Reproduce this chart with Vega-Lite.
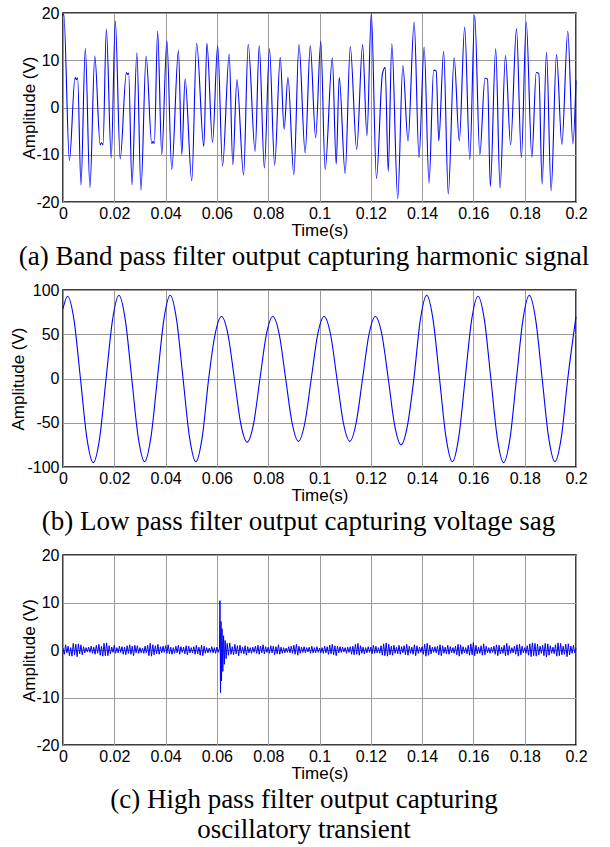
{
  "$schema": "https://vega.github.io/schema/vega-lite/v6.json",
  "background": "white",
  "padding": {"left": 9, "top": 4, "right": 5, "bottom": 0},
  "bounds": "flush",
  "spacing": 88,
  "config": {
    "view": {"stroke": "black", "strokeWidth": 1.5},
    "axis": {
      "labelFont": "Liberation Sans", "labelFontSize": 16, "labelColor": "black",
      "titleFont": "Liberation Sans", "titleFontSize": 17, "titleFontWeight": "normal", "titleColor": "black",
      "grid": true, "gridColor": "#9a9a9a", "gridWidth": 1, "domain": false, "ticks": false,
      "labelOverlap": false, "labelFlush": false, "labelExpr": "'' + datum.value"
    },
    "title": {"font": "Liberation Serif", "fontSize": 27, "fontWeight": "normal", "color": "black", "orient": "bottom", "anchor": "middle", "frame": "bounds", "offset": 6, "lineHeight": 30}
  },
  "datasets": {
    "a": [
      {"t":0,"v":19.5},{"t":0.0003,"v":19.8},{"t":0.0025,"v":-11.2},{"t":0.0047,"v":6.4},{"t":0.0052,"v":5.9},{"t":0.0057,"v":6.3},
      {"t":0.007,"v":-16.4},{"t":0.0087,"v":12.5},{"t":0.0105,"v":-16.9},{"t":0.0124,"v":10.9},{"t":0.0145,"v":-7.9},{"t":0.015,"v":-7.4},{"t":0.0156,"v":-7.9},
      {"t":0.0169,"v":16.6},{"t":0.0188,"v":-10.7},{"t":0.0204,"v":18.3},{"t":0.0223,"v":-10.9},{"t":0.0247,"v":7.4},{"t":0.0252,"v":7.0},{"t":0.0256,"v":7.3},
      {"t":0.0269,"v":-16.4},{"t":0.0288,"v":11.6},{"t":0.0304,"v":-17.5},{"t":0.0324,"v":10.9},{"t":0.0346,"v":-7.6},{"t":0.0351,"v":-7.2},{"t":0.0356,"v":-7.6},
      {"t":0.0369,"v":16.2},{"t":0.0385,"v":-10.0},{"t":0.0405,"v":14.1},{"t":0.0424,"v":-13.1},{"t":0.045,"v":12.1},{"t":0.0463,"v":-10.0},{"t":0.0476,"v":6.0},
      {"t":0.0502,"v":-15.5},{"t":0.0521,"v":13.6},{"t":0.0549,"v":-8.3},{"t":0.0561,"v":13.6},{"t":0.0583,"v":-7.4},{"t":0.0603,"v":13.1},{"t":0.0622,"v":-12.4},
      {"t":0.0648,"v":11.3},{"t":0.0662,"v":-12.1},{"t":0.0678,"v":5.9},{"t":0.0704,"v":-14.3},{"t":0.0722,"v":13.4},{"t":0.0749,"v":-9.3},{"t":0.0765,"v":13.1},
      {"t":0.0785,"v":-12.8},{"t":0.0805,"v":12.5},{"t":0.0825,"v":-12.2},{"t":0.0847,"v":10.6},{"t":0.0862,"v":-4.6},{"t":0.0877,"v":6.4},{"t":0.09,"v":-14.2},
      {"t":0.092,"v":13.3},{"t":0.0944,"v":-9.6},{"t":0.0964,"v":13.1},{"t":0.0985,"v":-6.4},{"t":0.1005,"v":14.0},{"t":0.1022,"v":-13.1},{"t":0.105,"v":10.5},
      {"t":0.1065,"v":-12.0},{"t":0.1077,"v":6.4},{"t":0.11,"v":-14.0},{"t":0.112,"v":12.9},{"t":0.1145,"v":-8.9},{"t":0.1168,"v":13.3},{"t":0.1185,"v":-6.0},
      {"t":0.1202,"v":20.0},{"t":0.1222,"v":-15.0},{"t":0.1245,"v":7.0},{"t":0.1256,"v":8.5},{"t":0.1268,"v":-13.5},{"t":0.1282,"v":13.5},{"t":0.1305,"v":-19.3},
      {"t":0.1325,"v":8.9},{"t":0.1345,"v":-7.1},{"t":0.1369,"v":18.1},{"t":0.1388,"v":-10.6},{"t":0.1408,"v":12.8},{"t":0.1427,"v":-16.0},{"t":0.1445,"v":7.9},
      {"t":0.1455,"v":7.7},{"t":0.1465,"v":-7.1},{"t":0.1484,"v":11.9},{"t":0.1502,"v":-18.3},{"t":0.1525,"v":10.5},{"t":0.1545,"v":-7.1},{"t":0.1566,"v":17.0},
      {"t":0.1586,"v":-11.0},{"t":0.1605,"v":19.5},{"t":0.1625,"v":-10.0},{"t":0.1645,"v":6.2},{"t":0.1655,"v":6.0},{"t":0.1666,"v":-16.7},{"t":0.1687,"v":12.4},
      {"t":0.1704,"v":-17.0},{"t":0.1725,"v":11.0},{"t":0.1745,"v":-7.9},{"t":0.1768,"v":16.7},{"t":0.1787,"v":-10.6},{"t":0.1806,"v":18.1},{"t":0.1828,"v":-10.5},
      {"t":0.1845,"v":7.4},{"t":0.1855,"v":7.2},{"t":0.1868,"v":-16.2},{"t":0.1885,"v":11.7},{"t":0.1903,"v":-17.6},{"t":0.1924,"v":11.2},{"t":0.1945,"v":-7.8},
      {"t":0.1968,"v":16.2},{"t":0.1988,"v":-7.7},{"t":0.2,"v":5.7}
    ],
    "b": [
      {"t":0,"v":79},{"t":0.0018,"v":93},{"t":0.0043,"v":66},{"t":0.0068,"v":0},{"t":0.0093,"v":-67},{"t":0.0118,"v":-95},{"t":0.0143,"v":-67},{"t":0.0168,"v":0},
      {"t":0.0193,"v":66},{"t":0.0218,"v":94},{"t":0.0243,"v":66},{"t":0.0268,"v":0},{"t":0.0293,"v":-66},{"t":0.0318,"v":-94},{"t":0.0343,"v":-66},{"t":0.0368,"v":0},
      {"t":0.0393,"v":66},{"t":0.0418,"v":94},{"t":0.0443,"v":66},{"t":0.0468,"v":0},{"t":0.0493,"v":-66},{"t":0.0518,"v":-94},{"t":0.0543,"v":-66},{"t":0.0568,"v":0},
      {"t":0.0593,"v":50},{"t":0.0618,"v":70},{"t":0.0643,"v":50},{"t":0.0668,"v":0},{"t":0.0693,"v":-51},{"t":0.0718,"v":-72},{"t":0.0743,"v":-51},{"t":0.0768,"v":0},
      {"t":0.0793,"v":50},{"t":0.0818,"v":70},{"t":0.0843,"v":50},{"t":0.0868,"v":0},{"t":0.0893,"v":-50},{"t":0.0918,"v":-71},{"t":0.0943,"v":-50},{"t":0.0968,"v":0},
      {"t":0.0993,"v":50},{"t":0.1018,"v":70},{"t":0.1043,"v":50},{"t":0.1068,"v":0},{"t":0.1093,"v":-50},{"t":0.1118,"v":-71},{"t":0.1143,"v":-50},{"t":0.1168,"v":0},
      {"t":0.1193,"v":50},{"t":0.1218,"v":70},{"t":0.1243,"v":50},{"t":0.1268,"v":0},{"t":0.1293,"v":-53},{"t":0.1318,"v":-75},{"t":0.1343,"v":-53},{"t":0.1368,"v":0},
      {"t":0.1393,"v":66},{"t":0.1418,"v":94},{"t":0.1443,"v":66},{"t":0.1468,"v":0},{"t":0.1493,"v":-66},{"t":0.1518,"v":-94},{"t":0.1543,"v":-66},{"t":0.1568,"v":0},
      {"t":0.1593,"v":66},{"t":0.1618,"v":93},{"t":0.1643,"v":66},{"t":0.1668,"v":0},{"t":0.1693,"v":-67},{"t":0.1718,"v":-95},{"t":0.1743,"v":-67},{"t":0.1768,"v":0},
      {"t":0.1793,"v":66},{"t":0.1818,"v":94},{"t":0.1843,"v":66},{"t":0.1868,"v":0},{"t":0.1893,"v":-66},{"t":0.1918,"v":-94},{"t":0.1943,"v":-66},{"t":0.1968,"v":0},
      {"t":0.2,"v":70}
    ],
    "c": [
      {"t":0,"v":0.4},{"t":0.0005,"v":-0.9},{"t":0.001,"v":1.1},{"t":0.0015,"v":-0.6},{"t":0.002,"v":0.8},{"t":0.0025,"v":-1.2},{"t":0.003,"v":0.5},{"t":0.0035,"v":-1.3},{"t":0.004,"v":1.4},{"t":0.0045,"v":-1.0},
      {"t":0.005,"v":1.2},{"t":0.0055,"v":-1.4},{"t":0.006,"v":1.3},{"t":0.0065,"v":-0.8},{"t":0.007,"v":1.1},{"t":0.0075,"v":-1.0},{"t":0.008,"v":0.7},{"t":0.0085,"v":-0.6},{"t":0.009,"v":0.5},{"t":0.0095,"v":-0.4},
      {"t":0.01,"v":0.6},{"t":0.0105,"v":-0.5},{"t":0.011,"v":0.8},{"t":0.0115,"v":-0.7},{"t":0.012,"v":0.6},{"t":0.0125,"v":-0.9},{"t":0.013,"v":1.0},{"t":0.0135,"v":-0.7},{"t":0.014,"v":1.2},{"t":0.0145,"v":-1.1},
      {"t":0.015,"v":0.8},{"t":0.0155,"v":-1.3},{"t":0.016,"v":1.4},{"t":0.0165,"v":-1.2},{"t":0.017,"v":1.5},{"t":0.0175,"v":-1.2},{"t":0.018,"v":0.9},{"t":0.0185,"v":-0.8},{"t":0.019,"v":0.6},{"t":0.0195,"v":-0.5},
      {"t":0.02,"v":1.0},{"t":0.0205,"v":-0.7},{"t":0.021,"v":0.5},{"t":0.0215,"v":-0.6},{"t":0.022,"v":0.8},{"t":0.0225,"v":-0.5},{"t":0.023,"v":0.7},{"t":0.0235,"v":-0.9},{"t":0.024,"v":0.6},{"t":0.0245,"v":-1.0},
      {"t":0.025,"v":0.9},{"t":0.0255,"v":-0.7},{"t":0.026,"v":1.1},{"t":0.0265,"v":-0.9},{"t":0.027,"v":0.8},{"t":0.0275,"v":-1.2},{"t":0.028,"v":1.0},{"t":0.0285,"v":-0.6},{"t":0.029,"v":0.9},{"t":0.0295,"v":-0.7},
      {"t":0.03,"v":0.5},{"t":0.0305,"v":-0.6},{"t":0.031,"v":0.4},{"t":0.0315,"v":-0.7},{"t":0.032,"v":0.8},{"t":0.0325,"v":-0.6},{"t":0.033,"v":1.0},{"t":0.0335,"v":-1.2},{"t":0.034,"v":1.4},{"t":0.0345,"v":-1.3},
      {"t":0.035,"v":1.1},{"t":0.0355,"v":-1.0},{"t":0.036,"v":0.9},{"t":0.0365,"v":-0.8},{"t":0.037,"v":1.2},{"t":0.0375,"v":-0.9},{"t":0.038,"v":0.7},{"t":0.0385,"v":-0.6},{"t":0.039,"v":0.8},{"t":0.0395,"v":-0.5},
      {"t":0.04,"v":0.9},{"t":0.0405,"v":-0.7},{"t":0.041,"v":1.1},{"t":0.0415,"v":-0.8},{"t":0.042,"v":0.6},{"t":0.0425,"v":-0.9},{"t":0.043,"v":0.5},{"t":0.0435,"v":-0.7},{"t":0.044,"v":0.8},{"t":0.0445,"v":-0.6},
      {"t":0.045,"v":1.0},{"t":0.0455,"v":-0.9},{"t":0.046,"v":0.7},{"t":0.0465,"v":-0.5},{"t":0.047,"v":0.6},{"t":0.0475,"v":-0.8},{"t":0.048,"v":0.9},{"t":0.0485,"v":-1.0},{"t":0.049,"v":0.8},{"t":0.0495,"v":-0.6},
      {"t":0.05,"v":0.5},{"t":0.0505,"v":-0.6},{"t":0.051,"v":0.7},{"t":0.0515,"v":-0.9},{"t":0.052,"v":1.0},{"t":0.0525,"v":-0.8},{"t":0.053,"v":0.6},{"t":0.0535,"v":-1.1},{"t":0.054,"v":1.0},{"t":0.0545,"v":-1.2},
      {"t":0.055,"v":0.8},{"t":0.0555,"v":-0.7},{"t":0.056,"v":0.5},{"t":0.0565,"v":-0.6},{"t":0.057,"v":0.4},{"t":0.0575,"v":-0.5},{"t":0.058,"v":0.7},{"t":0.0585,"v":-0.6},{"t":0.059,"v":0.5},{"t":0.0595,"v":-0.7},
      {"t":0.06,"v":0.6},{"t":0.0605,"v":-0.5},{"t":0.061,"v":0.4},{"t":0.0612,"v":10.4},{"t":0.0614,"v":-9.0},{"t":0.0616,"v":6.0},{"t":0.0618,"v":-6.5},{"t":0.062,"v":4.5},{"t":0.0623,"v":-4.5},{"t":0.0626,"v":3.0},
      {"t":0.0629,"v":-3.0},{"t":0.0632,"v":2.0},{"t":0.0636,"v":-1.8},{"t":0.064,"v":1.4},{"t":0.0645,"v":-1.1},{"t":0.065,"v":1.5},{"t":0.0655,"v":-0.9},{"t":0.066,"v":0.7},{"t":0.0665,"v":-1.0},{"t":0.067,"v":1.2},
      {"t":0.0675,"v":-0.8},{"t":0.068,"v":0.9},{"t":0.0685,"v":-1.2},{"t":0.069,"v":1.0},{"t":0.0695,"v":-0.7},
      {"t":0.07,"v":0.6},{"t":0.0705,"v":-0.8},{"t":0.071,"v":0.9},{"t":0.0715,"v":-1.1},{"t":0.072,"v":0.7},{"t":0.0725,"v":-0.6},{"t":0.073,"v":0.5},{"t":0.0735,"v":-0.7},{"t":0.074,"v":0.6},{"t":0.0745,"v":-0.5},
      {"t":0.075,"v":0.8},{"t":0.0755,"v":-0.7},{"t":0.076,"v":1.0},{"t":0.0765,"v":-0.9},{"t":0.077,"v":0.8},{"t":0.0775,"v":-0.6},{"t":0.078,"v":1.1},{"t":0.0785,"v":-0.8},{"t":0.079,"v":0.7},{"t":0.0795,"v":-0.5},
      {"t":0.08,"v":0.6},{"t":0.0805,"v":-0.7},{"t":0.081,"v":0.9},{"t":0.0815,"v":-0.6},{"t":0.082,"v":0.8},{"t":0.0825,"v":-1.0},{"t":0.083,"v":0.7},{"t":0.0835,"v":-0.8},{"t":0.084,"v":1.1},{"t":0.0845,"v":-0.9},
      {"t":0.085,"v":0.6},{"t":0.0855,"v":-0.7},{"t":0.086,"v":0.5},{"t":0.0865,"v":-0.6},{"t":0.087,"v":0.4},{"t":0.0875,"v":-0.5},{"t":0.088,"v":0.7},{"t":0.0885,"v":-0.6},{"t":0.089,"v":0.8},{"t":0.0895,"v":-0.7},
      {"t":0.09,"v":1.0},{"t":0.0905,"v":-0.9},{"t":0.091,"v":1.2},{"t":0.0915,"v":-1.1},{"t":0.092,"v":0.8},{"t":0.0925,"v":-0.7},{"t":0.093,"v":0.6},{"t":0.0935,"v":-0.5},{"t":0.094,"v":0.7},{"t":0.0945,"v":-0.6},
      {"t":0.095,"v":0.5},{"t":0.0955,"v":-0.4},{"t":0.096,"v":0.6},{"t":0.0965,"v":-0.7},{"t":0.097,"v":0.8},{"t":0.0975,"v":-0.6},{"t":0.098,"v":0.5},{"t":0.0985,"v":-0.6},{"t":0.099,"v":0.7},{"t":0.0995,"v":-0.5},
      {"t":0.1,"v":0.4},{"t":0.1005,"v":-0.6},{"t":0.101,"v":0.5},{"t":0.1015,"v":-0.7},{"t":0.102,"v":0.8},{"t":0.1025,"v":-0.6},{"t":0.103,"v":0.7},{"t":0.1035,"v":-0.9},{"t":0.104,"v":1.0},{"t":0.1045,"v":-0.8},
      {"t":0.105,"v":1.2},{"t":0.1055,"v":-1.0},{"t":0.106,"v":0.9},{"t":0.1065,"v":-1.2},{"t":0.107,"v":0.8},{"t":0.1075,"v":-0.6},{"t":0.108,"v":0.7},{"t":0.1085,"v":-0.5},{"t":0.109,"v":0.6},{"t":0.1095,"v":-0.4},
      {"t":0.11,"v":0.5},{"t":0.1105,"v":-0.7},{"t":0.111,"v":0.6},{"t":0.1115,"v":-0.5},{"t":0.112,"v":0.7},{"t":0.1125,"v":-0.9},{"t":0.113,"v":0.8},{"t":0.1135,"v":-1.0},{"t":0.114,"v":1.2},{"t":0.1145,"v":-0.9},
      {"t":0.115,"v":1.4},{"t":0.1155,"v":-1.1},{"t":0.116,"v":0.9},{"t":0.1165,"v":-0.7},{"t":0.117,"v":0.6},{"t":0.1175,"v":-0.8},{"t":0.118,"v":0.5},{"t":0.1185,"v":-0.6},{"t":0.119,"v":0.7},{"t":0.1195,"v":-0.5},
      {"t":0.12,"v":0.6},{"t":0.1205,"v":-0.8},{"t":0.121,"v":1.0},{"t":0.1215,"v":-0.7},{"t":0.122,"v":0.8},{"t":0.1225,"v":-0.6},{"t":0.123,"v":0.5},{"t":0.1235,"v":-0.7},{"t":0.124,"v":0.9},{"t":0.1245,"v":-1.1},
      {"t":0.125,"v":1.3},{"t":0.1255,"v":-1.2},{"t":0.126,"v":1.5},{"t":0.1265,"v":-1.3},{"t":0.127,"v":1.2},{"t":0.1275,"v":-1.0},{"t":0.128,"v":0.8},{"t":0.1285,"v":-1.1},{"t":0.129,"v":1.0},{"t":0.1295,"v":-0.7},
      {"t":0.13,"v":0.6},{"t":0.1305,"v":-0.8},{"t":0.131,"v":1.0},{"t":0.1315,"v":-0.9},{"t":0.132,"v":0.7},{"t":0.1325,"v":-0.6},{"t":0.133,"v":0.9},{"t":0.1335,"v":-1.0},{"t":0.134,"v":1.2},{"t":0.1345,"v":-1.1},
      {"t":0.135,"v":0.8},{"t":0.1355,"v":-0.7},{"t":0.136,"v":0.6},{"t":0.1365,"v":-0.9},{"t":0.137,"v":1.1},{"t":0.1375,"v":-1.2},{"t":0.138,"v":0.9},{"t":0.1385,"v":-0.7},{"t":0.139,"v":0.6},{"t":0.1395,"v":-0.5},
      {"t":0.14,"v":0.7},{"t":0.1405,"v":-0.9},{"t":0.141,"v":1.2},{"t":0.1415,"v":-1.3},{"t":0.142,"v":1.4},{"t":0.1425,"v":-1.1},{"t":0.143,"v":1.0},{"t":0.1435,"v":-0.8},{"t":0.144,"v":0.6},{"t":0.1445,"v":-0.5},
      {"t":0.145,"v":0.7},{"t":0.1455,"v":-0.6},{"t":0.146,"v":0.8},{"t":0.1465,"v":-1.0},{"t":0.147,"v":1.1},{"t":0.1475,"v":-1.2},{"t":0.148,"v":0.9},{"t":0.1485,"v":-0.7},{"t":0.149,"v":0.6},{"t":0.1495,"v":-0.8},
      {"t":0.15,"v":1.0},{"t":0.1505,"v":-0.9},{"t":0.151,"v":0.7},{"t":0.1515,"v":-0.6},{"t":0.152,"v":0.5},{"t":0.1525,"v":-0.7},{"t":0.153,"v":0.8},{"t":0.1535,"v":-1.0},{"t":0.154,"v":1.2},{"t":0.1545,"v":-1.3},
      {"t":0.155,"v":1.1},{"t":0.1555,"v":-0.9},{"t":0.156,"v":0.7},{"t":0.1565,"v":-0.6},{"t":0.157,"v":0.5},{"t":0.1575,"v":-0.8},{"t":0.158,"v":1.0},{"t":0.1585,"v":-1.1},{"t":0.159,"v":1.3},{"t":0.1595,"v":-1.0},
      {"t":0.16,"v":1.6},{"t":0.1605,"v":-1.2},{"t":0.161,"v":1.0},{"t":0.1615,"v":-0.8},{"t":0.162,"v":0.6},{"t":0.1625,"v":-0.7},{"t":0.163,"v":0.9},{"t":0.1635,"v":-1.1},{"t":0.164,"v":1.3},{"t":0.1645,"v":-1.0},
      {"t":0.165,"v":0.8},{"t":0.1655,"v":-0.6},{"t":0.166,"v":0.5},{"t":0.1665,"v":-0.7},{"t":0.167,"v":0.6},{"t":0.1675,"v":-0.5},{"t":0.168,"v":0.8},{"t":0.1685,"v":-0.9},{"t":0.169,"v":1.1},{"t":0.1695,"v":-1.2},
      {"t":0.17,"v":1.0},{"t":0.1705,"v":-0.8},{"t":0.171,"v":0.6},{"t":0.1715,"v":-0.7},{"t":0.172,"v":1.0},{"t":0.1725,"v":-1.2},{"t":0.173,"v":1.4},{"t":0.1735,"v":-1.1},{"t":0.174,"v":0.9},{"t":0.1745,"v":-0.7},
      {"t":0.175,"v":0.5},{"t":0.1755,"v":-0.6},{"t":0.176,"v":0.8},{"t":0.1765,"v":-0.9},{"t":0.177,"v":1.1},{"t":0.1775,"v":-1.3},{"t":0.178,"v":1.2},{"t":0.1785,"v":-1.0},{"t":0.179,"v":0.8},{"t":0.1795,"v":-0.6},
      {"t":0.18,"v":0.5},{"t":0.1805,"v":-0.7},{"t":0.181,"v":0.9},{"t":0.1815,"v":-1.1},{"t":0.182,"v":1.3},{"t":0.1825,"v":-1.4},{"t":0.183,"v":1.5},{"t":0.1835,"v":-1.2},{"t":0.184,"v":1.4},{"t":0.1845,"v":-1.3},
      {"t":0.185,"v":1.2},{"t":0.1855,"v":-1.0},{"t":0.186,"v":0.8},{"t":0.1865,"v":-0.7},{"t":0.187,"v":1.0},{"t":0.1875,"v":-1.2},{"t":0.188,"v":1.4},{"t":0.1885,"v":-1.5},{"t":0.189,"v":1.3},{"t":0.1895,"v":-1.1},
      {"t":0.19,"v":0.9},{"t":0.1905,"v":-0.7},{"t":0.191,"v":0.6},{"t":0.1915,"v":-0.8},{"t":0.192,"v":1.1},{"t":0.1925,"v":-1.3},{"t":0.193,"v":1.5},{"t":0.1935,"v":-1.2},{"t":0.194,"v":1.4},{"t":0.1945,"v":-1.0},
      {"t":0.195,"v":0.8},{"t":0.1955,"v":-0.9},{"t":0.196,"v":1.2},{"t":0.1965,"v":-1.4},{"t":0.197,"v":1.3},{"t":0.1975,"v":-1.0},{"t":0.198,"v":0.8},{"t":0.1985,"v":-0.7},{"t":0.199,"v":1.0},{"t":0.1995,"v":-0.6},
      {"t":0.2,"v":0.3}
    ]
  },
  "vconcat": [
    {
      "width": 513, "height": 189,
      "title": {"text": "(a) Band pass filter output capturing harmonic signal"},
      "data": {"name": "a"},
      "mark": {"type": "line", "color": "#0000ff", "strokeWidth": 1.1, "interpolate": "monotone"},
      "encoding": {
        "x": {"field": "t", "type": "quantitative", "scale": {"domain": [0, 0.2], "nice": false},
              "axis": {"values": [0,0.02,0.04,0.06,0.08,0.1,0.12,0.14,0.16,0.18,0.2], "title": "Time(s)", "titlePadding": 1, "labelPadding": 3}},
        "y": {"field": "v", "type": "quantitative", "scale": {"domain": [-20, 20], "nice": false},
              "axis": {"values": [-20,-10,0,10,20], "title": "Amplitude (V)", "titlePadding": -3, "labelPadding": 4}}
      }
    },
    {
      "width": 513, "height": 177,
      "title": {"text": "(b) Low pass filter output capturing voltage sag"},
      "data": {"name": "b"},
      "mark": {"type": "line", "color": "#0000ff", "strokeWidth": 1.1, "interpolate": "monotone"},
      "encoding": {
        "x": {"field": "t", "type": "quantitative", "scale": {"domain": [0, 0.2], "nice": false},
              "axis": {"values": [0,0.02,0.04,0.06,0.08,0.1,0.12,0.14,0.16,0.18,0.2], "title": "Time(s)", "titlePadding": 1, "labelPadding": 3}},
        "y": {"field": "v", "type": "quantitative", "scale": {"domain": [-100, 100], "nice": false},
              "axis": {"values": [-100,-50,0,50,100], "title": "Amplitude (V)", "titlePadding": -1, "labelPadding": 4}}
      }
    },
    {
      "width": 513, "height": 190,
      "title": {"text": ["(c) High pass filter output capturing", "oscillatory transient"]},
      "data": {"name": "c"},
      "mark": {"type": "line", "color": "#0000ff", "strokeWidth": 1, "interpolate": "linear"},
      "encoding": {
        "x": {"field": "t", "type": "quantitative", "scale": {"domain": [0, 0.2], "nice": false},
              "axis": {"values": [0,0.02,0.04,0.06,0.08,0.1,0.12,0.14,0.16,0.18,0.2], "title": "Time(s)", "titlePadding": 1, "labelPadding": 3}},
        "y": {"field": "v", "type": "quantitative", "scale": {"domain": [-20, 20], "nice": false},
              "axis": {"values": [-20,-10,0,10,20], "title": "Amplitude (V)", "titlePadding": -3, "labelPadding": 4}}
      }
    }
  ]
}
